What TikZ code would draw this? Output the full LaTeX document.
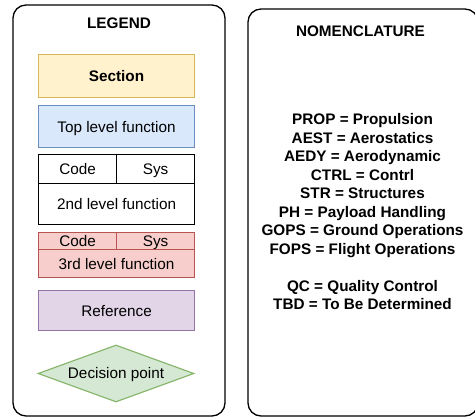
\documentclass[tikz,border=0pt]{standalone}
\usepackage{fontspec}
\setmainfont{Liberation Sans}
\usetikzlibrary{shapes.geometric}

\definecolor{secfill}{HTML}{FFF2CC}\definecolor{secline}{HTML}{D6B656}
\definecolor{topfill}{HTML}{DAE8FC}\definecolor{topline}{HTML}{6C8EBF}
\definecolor{thrfill}{HTML}{F8CECC}\definecolor{thrline}{HTML}{B85450}
\definecolor{reffill}{HTML}{E1D5E7}\definecolor{refline}{HTML}{9673A6}
\definecolor{decfill}{HTML}{D5E8D4}\definecolor{decline}{HTML}{82B366}

\tikzset{
  % cap-height box so that the node centre sits on the middle of the capitals
  txt/.style={font=\fontsize{15.3}{18.5}\selectfont, inner sep=0pt,
              text height=10.95pt, text depth=0pt},
  boldtxt/.style={txt, font=\fontsize{15.3}{18.5}\selectfont\bfseries},
  panel/.style={draw=black, line width=1.3pt, rounded corners=13pt},
  boxbase/.style={txt, line width=1.1pt, minimum width=156pt, anchor=north west},
  secbox/.style={boxbase, draw=secline, fill=secfill, font=\fontsize{15.3}{18.5}\selectfont\bfseries},
  topbox/.style={boxbase, draw=topline, fill=topfill},
  plainbox/.style={boxbase, draw=black},
  thrbox/.style={boxbase, draw=thrline, fill=thrfill},
  refbox/.style={boxbase, draw=refline, fill=reffill},
  cellbox/.style={txt, line width=1.1pt, minimum width=78pt, anchor=north west},
  decbox/.style={txt, diamond, draw=decline, fill=decfill, line width=1.1pt,
                 minimum width=156pt, minimum height=57pt, aspect=2.7, inner sep=0pt},
}

\begin{document}
\begin{tikzpicture}[x=1pt,y=-1pt]
  \useasboundingbox (0,0) rectangle (475,418);
  \begin{scope}
    \clip (0,0) rectangle (475,418);
    % two framing panels
    \draw[panel] (13,5) rectangle (225,416);
    \draw[panel] (248,9) rectangle (478,416);
  \end{scope}

  % legend column
  \node[boldtxt] (legend) at (119,23) {LEGEND};

  \node[secbox, minimum height=43pt] (section) at (38,54) {Section};
  \node[topbox, minimum height=42pt] (toplevel) at (38,105) {Top level function};

  % second level: code / sys header above the function name
  \node[cellbox, draw=black, minimum height=29pt] (code2) at (38,154) {Code};
  \node[cellbox, draw=black, minimum height=29pt] (sys2) at (116,154) {Sys};
  \node[plainbox, minimum height=41pt] (second) at (38,183) {2nd level function};

  % third level: same layout, red tint
  \node[cellbox, draw=thrline, fill=thrfill, minimum height=17pt] (code3) at (38,232) {Code};
  \node[cellbox, draw=thrline, fill=thrfill, minimum height=17pt] (sys3) at (116,232) {Sys};
  \node[thrbox, minimum height=28pt] (third) at (38,249) {3rd level function};

  \node[refbox, minimum height=40pt] (reference) at (38,290) {Reference};
  \node[decbox] (decision) at (116,373.5) {Decision point};

  % nomenclature column
  \node[boldtxt] (nomtitle) at (360.5,31) {NOMENCLATURE};
  \foreach \yy/\entry [count=\i] in {
      119.5/PROP = Propulsion,
      138/AEST = Aerostatics,
      156.5/AEDY = Aerodynamic,
      175/CTRL = Contrl,
      193.5/STR = Structures,
      212/PH = Payload Handling,
      230.5/GOPS = Ground Operations,
      249/FOPS = Flight Operations,
      286/QC = Quality Control,
      304.5/TBD = To Be Determined}
    \node[boldtxt] (nom\i) at (362.5,\yy) {\entry};
\end{tikzpicture}
\end{document}
